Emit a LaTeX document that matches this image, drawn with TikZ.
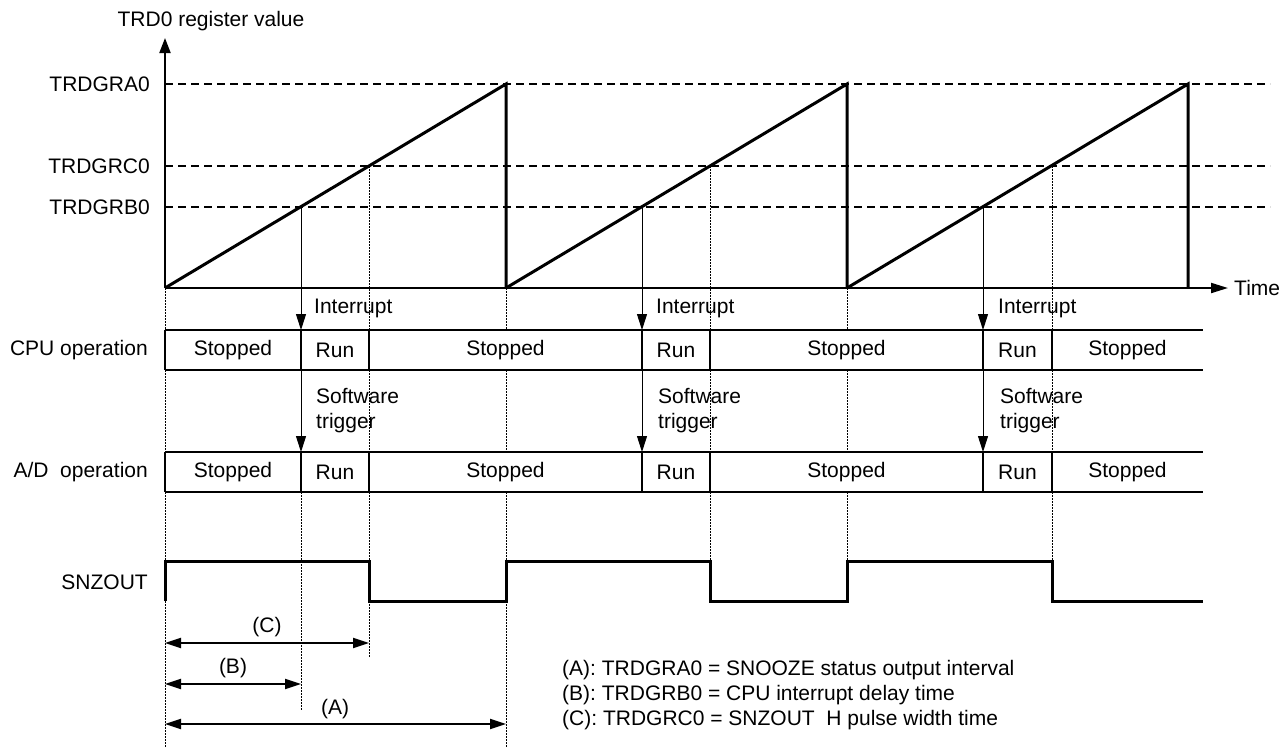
\documentclass[tikz,border=0pt]{standalone}
\usepackage{fontspec}
\setmainfont{Liberation Sans}
\usetikzlibrary{arrows.meta}
\begin{document}
\begin{tikzpicture}[x=1pt,y=-1pt,
  txt/.style={inner sep=0pt, font=\fontsize{21}{25}\selectfont},
  thickline/.style={line width=3pt, line join=miter},
  axisline/.style={line width=2pt},
  dashline/.style={line width=1.6pt, dash pattern=on 8pt off 5pt},
  dotline/.style={line width=1pt, dash pattern=on 1.5pt off 1.5pt},
  boxline/.style={line width=2pt},
  trig/.style={line width=1pt, -{Triangle[length=16pt,width=10pt]}},
  dimarrow/.style={line width=2pt, {Triangle[length=16pt,width=10pt]}-{Triangle[length=16pt,width=10pt]}},
]
\fill[white] (0,0) rectangle (1285,747);
\useasboundingbox (0,0) rectangle (1285,747);

% key coordinates
\coordinate (O) at (165,288);
\coordinate (ytip) at (165,38);
\coordinate (xtip) at (1228,288);

% dashed level lines
\foreach \y in {84,166,207} \draw[dashline] (165,\y) -- (1270,\y);

% dotted guide lines
\draw[dotline] (165,288) -- (165,330) (165,370) -- (165,452) (165,492) -- (165,561) (165,601) -- (165,747);
\draw[dotline] (506,288) -- (506,330) (506,370) -- (506,452) (506,492) -- (506,561) (506,601) -- (506,747);
\draw[dotline] (847,288) -- (847,330) (847,370) -- (847,452) (847,492) -- (847,561);
\draw[dotline] (369,601) -- (369,657);
\draw[dotline] (301,492) -- (301,711);

% ramps, interrupts, C guides
\foreach \s/\b/\c/\e/\i in {165/301/369/506/1, 506/642/710/847/2, 847/983/1052/1188/3} {
  \coordinate (ramp\i) at (\s,288);
  \coordinate (peak\i) at (\e,84);
  \coordinate (reset\i) at (\e,288);
  \coordinate (bcross\i) at (\b,207);
  \coordinate (cputop\i) at (\b,330);
  \coordinate (cpubot\i) at (\b,370);
  \coordinate (adtop\i) at (\b,452);
  \draw[thickline] (ramp\i) -- (peak\i) -- (reset\i);
  \draw[trig] (bcross\i) -- (cputop\i);
  \draw[trig] (cpubot\i) -- (adtop\i);
  \draw[dotline] (\c,166) -- (\c,330) (\c,370) -- (\c,452) (\c,492) -- (\c,561);
}

% axes
\draw[axisline, -{Triangle[length=15pt,width=11pt]}] (O) -- (ytip);
\draw[axisline, -{Triangle[length=17pt,width=10pt]}] (O) -- (xtip);

% operation rows
\draw[boxline] (165,330) -- (1203,330) (165,370) -- (1203,370);
\draw[boxline] (165,452) -- (1203,452) (165,492) -- (1203,492);
\foreach \x in {165,301,369,642,710,983,1052}
  \draw[boxline] (\x,330) -- (\x,370) (\x,452) -- (\x,492);

\foreach \x/\t/\n in {233/Stopped/1, 335/Run/2, 505.5/Stopped/3, 676/Run/4, 846.5/Stopped/5, 1017.5/Run/6, 1127.5/Stopped/7} {
  \node[txt] (cpu\n) at (\x,350) {\t};
  \node[txt] (ad\n) at (\x,472) {\t};
}

% SNZOUT waveform
\draw[thickline] (165,601) -- (165,561) -- (369,561) -- (369,601) -- (506,601) -- (506,561)
  -- (710,561) -- (710,601) -- (847,601) -- (847,561) -- (1052,561) -- (1052,601) -- (1203,601);

% dimension arrows
\coordinate (cL) at (165,643); \coordinate (cR) at (369,643);
\coordinate (bL) at (165,684); \coordinate (bR) at (301,684);
\coordinate (aL) at (165,724); \coordinate (aR) at (506,724);
\draw[dimarrow] (cL) -- (cR);
\draw[dimarrow] (bL) -- (bR);
\draw[dimarrow] (aL) -- (aR);
\node[txt] (clab) at (267,627) {(C)};
\node[txt] (blab) at (233,668) {(B)};
\node[txt] (alab) at (335,709) {(A)};

% labels
\node[txt] (ytitle) at (211,21) {TRD0 register value};
\node[txt, anchor=east] (lvA) at (150,84) {TRDGRA0};
\node[txt, anchor=east] (lvC) at (150,166) {TRDGRC0};
\node[txt, anchor=east] (lvB) at (150,207) {TRDGRB0};
\node[txt, anchor=west] (time) at (1234,288) {Time};

\node[txt, anchor=east] (rowcpu) at (148,350) {CPU operation};
\node[txt, anchor=east] (rowad) at (148,472) {A/D\ \ operation};
\node[txt, anchor=east] (rowsnz) at (148,582) {SNZOUT};

\foreach \x/\n in {314/1, 656/2, 998/3} {
  \node[txt, anchor=west] (intr\n) at (\x,308) {Interrupt};
  \node[txt, anchor=west, align=left] (swt\n) at (\x+2,410.5) {Software\\trigger};
}

\node[txt, anchor=west] (legA) at (562,670) {(A): TRDGRA0 = SNOOZE status output interval};
\node[txt, anchor=west] (legB) at (562,695) {(B): TRDGRB0 = CPU interrupt delay time};
\node[txt, anchor=west] (legC) at (562,720) {(C): TRDGRC0 = SNZOUT\ \ H pulse width time};
\end{tikzpicture}
\end{document}
